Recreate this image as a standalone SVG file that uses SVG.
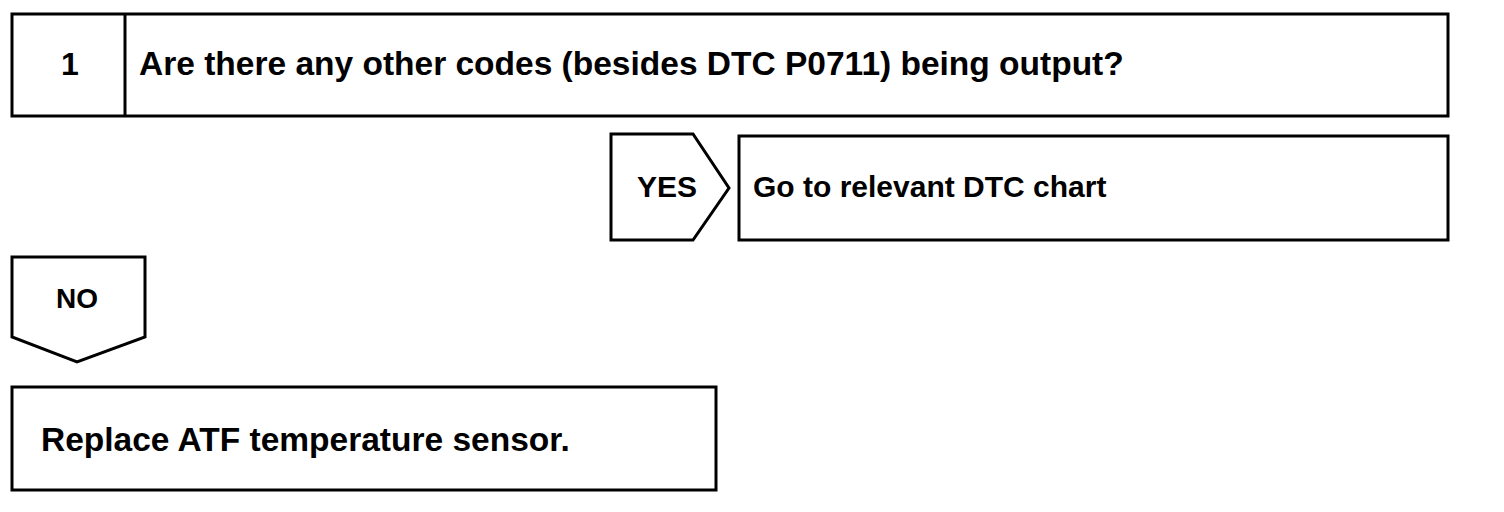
<svg xmlns="http://www.w3.org/2000/svg" width="1504" height="512" viewBox="0 0 1504 512">
<style>
.b{fill:#fff;stroke:#000;stroke-width:3;stroke-linejoin:miter}
.t{font-family:"Liberation Sans",Arial,sans-serif;font-weight:bold;font-size:30px;fill:#000}
.l{font-size:33.5px}
</style>
<rect width="1504" height="512" fill="#fff"/>
<g id="step1">
<rect class="b" x="12" y="14" width="1436" height="102"/>
<line class="b" x1="125" y1="14" x2="125" y2="116"/>
<text class="t" x="70" y="75" text-anchor="middle" style="font-size:32px">1</text>
<text class="t l" x="139" y="75">Are there any other codes (besides DTC P0711) being output?</text>
</g>
<g id="connectors">
<g id="yes">
<polygon class="b" points="611,134 693,134 729,188 693,240 611,240"/>
<text class="t" x="667" y="197" text-anchor="middle">YES</text>
</g>
<g id="no">
<polygon class="b" points="12,257 145,257 145,337 77,362 12,337"/>
<text class="t" x="77" y="308" text-anchor="middle" style="font-size:28px">NO</text>
</g>
</g>
<g id="goto">
<rect class="b" x="739" y="136" width="709" height="104"/>
<text class="t" x="753" y="197">Go to relevant DTC chart</text>
</g>
<g id="replace">
<rect class="b" x="12" y="387" width="704" height="103"/>
<text class="t l" x="41" y="451">Replace ATF temperature sensor.</text>
</g>
</svg>
